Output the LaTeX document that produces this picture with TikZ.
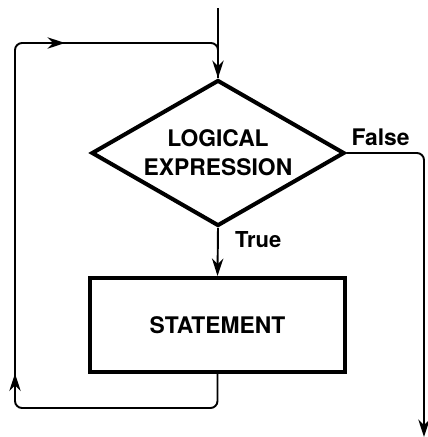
\documentclass[tikz,border=0pt]{standalone}
\usepackage{fontspec}
\setmainfont{TeX Gyre Heros}
\usepackage{tikz}
\usetikzlibrary{
  arrows.meta,decorations.markings,positioning,shapes.geometric
}
\tikzset{
  decision/.style={diamond,draw,line width=2.3pt,aspect=1.73,
    minimum width=5.06cm,minimum height=2.92cm,inner sep=0pt,align=center},
  process/.style={rectangle,draw,line width=2.3pt,
    minimum width=5.1cm,minimum height=1.88cm},
  flow/.style={line width=1.1pt,rounded corners=4pt},
  branch/.style={font=\bfseries\fontsize{12.5}{15}\selectfont},
  every node/.style={font=\bfseries\fontsize{13}{16.4}\selectfont}
}
\tikzstyle{arrow} = [flow,-{Stealth[length=10pt,width=6.5pt]}]

\begin{document}
\begin{tikzpicture}[x=0.02cm,y=-0.02cm]
  % Page window
  \useasboundingbox (0,0) rectangle (428,437);

  % Boxes
  \node[decision] (cond) at (218,153) {LOGICAL\\EXPRESSION};
  \node[process]  (stmt) at (217.5,325) {STATEMENT};

  % Free ends
  \coordinate (start)   at (218,8);
  \coordinate (exit)    at (424,437);
  \coordinate (loopbot) at (15,408);
  \coordinate (looptop) at (15,43);

  % Flow
  \draw[arrow] (start) -- (cond.north);
  \draw[arrow] (cond.south) -- node[branch,pos=0.25,right=6pt] {True} (stmt.north);
  \draw[arrow] (cond.east) -| node[pos=0.22,above] {False} (exit);

  % Loop back
  \draw[flow,decoration={markings,
      mark=at position 5.3cm with {\arrow{Stealth[length=10pt,width=6.5pt]}},
      mark=at position 12.85cm with {\arrow{Stealth[length=10pt,width=6.5pt]}}},
    postaction={decorate}]
    (stmt.south) |- (loopbot) -- (looptop) -| (cond.north);
\end{tikzpicture}
\end{document}
